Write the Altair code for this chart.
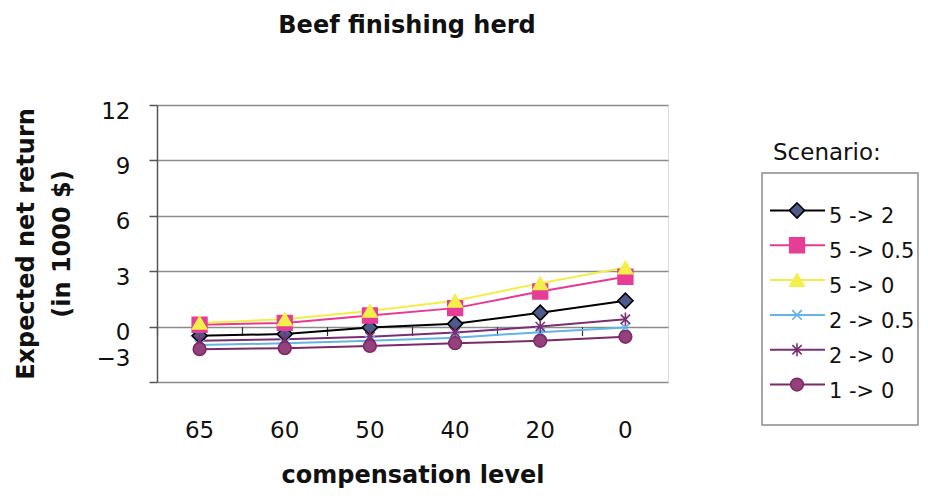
import altair as alt
import pandas as pd

# ---- data ----
categories = ["65", "60", "50", "40", "20", "0"]
scenarios = ["5 -> 2", "5 -> 0.5", "5 -> 0", "2 -> 0.5", "2 -> 0", "1 -> 0"]
s_5_2 = [-0.5, -0.4, -0.05, 0.15, 0.75, 1.4]
s_5_05 = [0.1, 0.2, 0.6, 1.0, 1.9, 2.7]
s_5_0 = [0.2, 0.4, 0.85, 1.4, 2.35, 3.2]
s_2_05 = [-1.0, -0.9, -0.77, -0.6, -0.3, -0.05]
s_2_0 = [-0.77, -0.68, -0.55, -0.32, 0.0, 0.4]
s_1_0 = [-1.22, -1.17, -1.05, -0.9, -0.77, -0.55]
y_ticks = [-3, 0, 3, 6, 9, 12]
chart_title = "Beef finishing herd"

series = [s_5_2, s_5_05, s_5_0, s_2_05, s_2_0, s_1_0]

# ---- styles ----
line_colors = ["#000000", "#e8388f", "#f2ee48", "#62b5e5", "#7b2f73", "#7a2a65"]
fill_colors = ["#4d5b8c", "#e63d96", "#f4ef4a", "transparent", "transparent", "#95417c"]
stroke_colors = ["#000000", "#e63d96", "#f4ef4a", "#5fb3e6", "#7b2f73", "#7a2a65"]
shapes = ["diamond", "square", "triangle-up",
          "M-0.7,-0.7L0.7,0.7M-0.7,0.7L0.7,-0.7",
          "M-0.7,-0.7L0.7,0.7M-0.7,0.7L0.7,-0.7M0,-1L0,1",
          "circle"]
sizes = [230, 160, 220, 230, 260, 220]

rows = []
for name, vals in zip(scenarios, series):
    for c, v in zip(categories, vals):
        rows.append({"category": c, "scenario": name, "value": v})
df = pd.DataFrame(rows)
legend_df = pd.DataFrame({"scenario": scenarios})
one = pd.DataFrame({"a": [0]})

FONT = "DejaVu Sans"
W, H = 511, 277

color_scale = alt.Scale(domain=scenarios, range=line_colors)
fill_scale = alt.Scale(domain=scenarios, range=fill_colors)
stroke_scale = alt.Scale(domain=scenarios, range=stroke_colors)
shape_scale = alt.Scale(domain=scenarios, range=shapes)
size_scale = alt.Scale(domain=scenarios, range=sizes)

x_scale = alt.Scale(type="band", domain=categories, paddingInner=0, paddingOuter=0)
y_scale = alt.Scale(domain=[-3, 12], nice=False, zero=False)

base = alt.Chart(df)

lines = base.mark_line(strokeWidth=2).encode(
    x=alt.X("category:N", sort=categories, scale=x_scale,
            axis=alt.Axis(title="compensation level", ticks=False, domain=False, grid=False,
                          labelFont=FONT, labelFontSize=23, labelColor="#111",
                          labelAngle=0, labelBaseline="alphabetic", labelPadding=55,
                          titleFont=FONT, titleFontSize=24, titleFontWeight="bold",
                          titleColor="#111", titleBaseline="alphabetic", titleY=100)),
    y=alt.Y("value:Q", scale=y_scale,
            axis=alt.Axis(values=y_ticks, title=["Expected net return", "(in 1000 $)"],
                          grid=True, gridColor="#8c8c8c", gridWidth=1.5,
                          domain=True, domainColor="#555", domainWidth=1.5,
                          ticks=True, tickSize=8, tickColor="#555", tickWidth=1.5,
                          labelFont=FONT, labelFontSize=23, labelColor="#111",
                          labelPadding=19,
                          labelOffset={"condition": {"test": "datum.value === -3", "value": -24}, "value": 6},
                          titleFont=FONT, titleFontSize=24, titleFontWeight="bold",
                          titleColor="#111", titleAngle=270, titleBaseline="alphabetic",
                          titleLineHeight=36, titleX=-124)),
    color=alt.Color("scenario:N", scale=color_scale, legend=None),
    detail="scenario:N",
)

points = base.mark_point(opacity=1, strokeWidth=1.6).encode(
    x=alt.X("category:N", sort=categories, scale=x_scale,
            axis=alt.Axis(title=None, labels=False, domain=False, grid=False,
                          ticks=True, tickSize=9, tickColor="#333", tickWidth=1.2,
                          bandPosition=0, offset=-55.4, orient="bottom")),
    y=alt.Y("value:Q", scale=y_scale),
    shape=alt.Shape("scenario:N", scale=shape_scale, legend=None),
    fill=alt.Fill("scenario:N", scale=fill_scale, legend=None),
    stroke=alt.Stroke("scenario:N", scale=stroke_scale, legend=None),
    size=alt.Size("scenario:N", scale=size_scale, legend=None),
)

main = alt.layer(lines, points).resolve_axis(x="independent")

# ---- chart title as text ----
title_mark = alt.Chart(one).mark_text(text=chart_title, font=FONT, fontSize=24, fontWeight="bold",
                                      color="#111", align="center", baseline="alphabetic").encode(
    x=alt.value(250), y=alt.value(-72))

# ---- custom legend (line + marker samples) ----
leg_y = alt.Y("scenario:N", sort=scenarios,
              scale=alt.Scale(type="point", domain=scenarios, range=[88, 297]), axis=None)

leg_box = alt.Chart(one).mark_rect(fill="white", stroke="#8a8a8a", strokeWidth=1.5).encode(
    x=alt.value(605), x2=alt.value(761), y=alt.value(68), y2=alt.value(320))
leg_title = alt.Chart(one).mark_text(text="Scenario:", font=FONT, fontSize=23, color="#111",
                                     align="left", baseline="alphabetic").encode(
    x=alt.value(616), y=alt.value(55))
leg_rules = alt.Chart(legend_df).mark_rule(strokeWidth=2).encode(
    x=alt.value(613), x2=alt.value(668), y=leg_y,
    color=alt.Color("scenario:N", scale=color_scale, legend=None))
leg_pts = alt.Chart(legend_df).mark_point(opacity=1, strokeWidth=1.6).encode(
    x=alt.value(640), y=leg_y,
    shape=alt.Shape("scenario:N", scale=shape_scale, legend=None),
    fill=alt.Fill("scenario:N", scale=fill_scale, legend=None),
    stroke=alt.Stroke("scenario:N", scale=stroke_scale, legend=None),
    size=alt.Size("scenario:N", scale=size_scale, legend=None))
leg_text = alt.Chart(legend_df).mark_text(font=FONT, fontSize=21, color="#111",
                                          align="left", baseline="middle", dy=7).encode(
    x=alt.value(672), y=leg_y, text="scenario:N")

chart = alt.layer(main, title_mark, leg_box, leg_title, leg_rules, leg_pts, leg_text).resolve_scale(
    y="independent"
).properties(
    width=W, height=H,
    autosize=alt.AutoSizeParams(type="none"),
    padding={"left": 149, "top": 97, "right": 252, "bottom": 106},
).configure_view(stroke="#555", strokeWidth=1.5).configure(background="white")

chart.save("out.html", embed_options={"renderer": "svg", "actions": False})
